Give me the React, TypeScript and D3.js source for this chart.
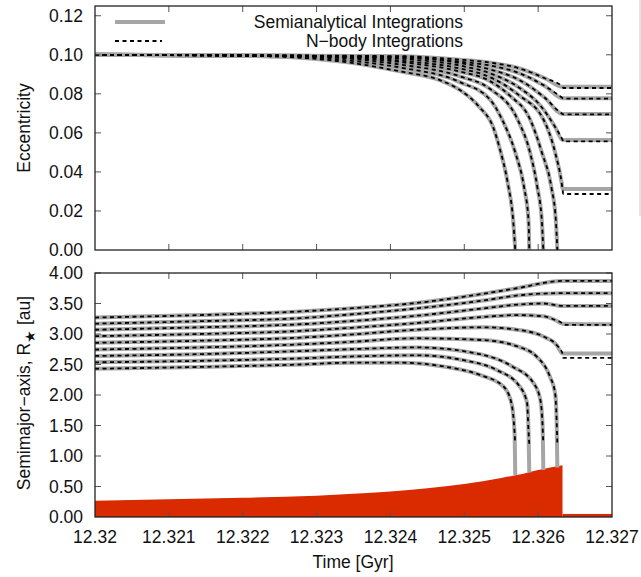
import React, { useEffect, useRef } from "react";
import * as d3 from "d3";

type Pt = [number, number];

// stellar radius (au) along the RGB, then the remnant
const starTime = [12.32, 12.321, 12.322, 12.323, 12.3235, 12.324, 12.3245, 12.325, 12.3255, 12.3258, 12.326, 12.32633];
const starRadius = [0.267, 0.29, 0.315, 0.35, 0.38, 0.42, 0.47, 0.54, 0.64, 0.71, 0.77, 0.85];
const remnantRadius = 0.05;

// eccentricity, semianalytical (curves 0-3 engulfed, 4-8 survive)
const ecc0: Pt[] = [[12.32, 0.1], [12.3221, 0.0995], [12.32278, 0.0985], [12.32345, 0.096], [12.32413, 0.0915], [12.32467, 0.087], [12.32494, 0.082], [12.32521, 0.073], [12.32539, 0.063], [12.32548, 0.052], [12.32559, 0.034], [12.32566, 0.016], [12.32569, 0]];
const ecc1: Pt[] = [[12.32, 0.1], [12.32278, 0.099], [12.32345, 0.097], [12.32413, 0.0935], [12.32494, 0.086], [12.32535, 0.077], [12.32551, 0.067], [12.32569, 0.05], [12.32581, 0.032], [12.32587, 0.015], [12.32588, 0]];
const ecc2: Pt[] = [[12.32, 0.1], [12.32278, 0.0993], [12.32345, 0.098], [12.32413, 0.095], [12.32494, 0.089], [12.32535, 0.0825], [12.32572, 0.067], [12.32589, 0.05], [12.32599, 0.032], [12.32605, 0.015], [12.32607, 0]];
const ecc3: Pt[] = [[12.32, 0.1], [12.32278, 0.0995], [12.32345, 0.0985], [12.32413, 0.0963], [12.32494, 0.0914], [12.32535, 0.0865], [12.32562, 0.079], [12.32589, 0.067], [12.32605, 0.05], [12.32618, 0.032], [12.32624, 0.015], [12.32626, 0]];
const ecc4: Pt[] = [[12.32, 0.1], [12.32345, 0.099], [12.32413, 0.097], [12.32494, 0.093], [12.32535, 0.0885], [12.32575, 0.079], [12.32607, 0.067], [12.32623, 0.05], [12.32632, 0.034], [12.32633, 0.0313]];
const ecc5: Pt[] = [[12.32, 0.1], [12.32345, 0.0993], [12.32413, 0.098], [12.32494, 0.0945], [12.32535, 0.0905], [12.32575, 0.083], [12.32603, 0.074], [12.32623, 0.063], [12.32633, 0.0564]];
const ecc6: Pt[] = [[12.32, 0.1], [12.32413, 0.0985], [12.32494, 0.0958], [12.32535, 0.0925], [12.32575, 0.087], [12.32609, 0.078], [12.32633, 0.0697]];
const ecc7: Pt[] = [[12.32, 0.1], [12.32413, 0.099], [12.32494, 0.0965], [12.32535, 0.0945], [12.32575, 0.0905], [12.32609, 0.084], [12.32633, 0.0778]];
const ecc8: Pt[] = [[12.32, 0.1], [12.32413, 0.0993], [12.32494, 0.0975], [12.32535, 0.096], [12.32575, 0.093], [12.32609, 0.088], [12.32633, 0.0836]];

// semimajor axis (au), semianalytical
const semi0: Pt[] = [[12.32, 2.43], [12.32142, 2.46], [12.32278, 2.5], [12.32345, 2.53], [12.32413, 2.53], [12.32476, 2.46], [12.32521, 2.33], [12.32553, 2.14], [12.32564, 1.86], [12.32568, 1.4], [12.32569, 0.69]];
const semi1: Pt[] = [[12.32, 2.535], [12.32142, 2.56], [12.32278, 2.6], [12.32345, 2.63], [12.32436, 2.65], [12.32499, 2.57], [12.32544, 2.41], [12.32575, 2.14], [12.32585, 1.87], [12.32587, 1.4], [12.32588, 0.73]];
const semi2: Pt[] = [[12.32, 2.64], [12.32142, 2.67], [12.32278, 2.72], [12.32345, 2.75], [12.32436, 2.78], [12.32521, 2.67], [12.32566, 2.46], [12.32594, 2.19], [12.32603, 1.92], [12.32606, 1.5], [12.32607, 0.77]];
const semi3: Pt[] = [[12.32, 2.745], [12.32142, 2.78], [12.32278, 2.83], [12.32345, 2.87], [12.32436, 2.93], [12.32526, 2.9], [12.32571, 2.8], [12.32598, 2.63], [12.32616, 2.3], [12.32623, 2.03], [12.32625, 1.6], [12.32626, 0.81]];
const semi4: Pt[] = [[12.32, 2.855], [12.32142, 2.89], [12.32278, 2.94], [12.32345, 2.99], [12.32436, 3.07], [12.32526, 3.11], [12.32571, 3.07], [12.32607, 2.96], [12.32625, 2.82], [12.32633, 2.68]];
const semi5: Pt[] = [[12.32, 2.965], [12.32142, 3.0], [12.32278, 3.05], [12.32345, 3.1], [12.32436, 3.18], [12.32526, 3.28], [12.32571, 3.31], [12.32607, 3.29], [12.32623, 3.23], [12.32633, 3.17]];
const semi6: Pt[] = [[12.32, 3.07], [12.32142, 3.11], [12.32278, 3.16], [12.32345, 3.21], [12.32436, 3.3], [12.32526, 3.42], [12.32571, 3.48], [12.32607, 3.5], [12.32633, 3.46]];
const semi7: Pt[] = [[12.32, 3.17], [12.32142, 3.21], [12.32278, 3.26], [12.32345, 3.32], [12.32436, 3.42], [12.32526, 3.55], [12.32571, 3.63], [12.32633, 3.67]];
const semi8: Pt[] = [[12.32, 3.27], [12.32142, 3.31], [12.32278, 3.37], [12.32345, 3.42], [12.32436, 3.51], [12.32526, 3.66], [12.32571, 3.75], [12.32633, 3.87]];

const eccCurves = [ecc0, ecc1, ecc2, ecc3, ecc4, ecc5, ecc6, ecc7, ecc8];
const semiCurves = [semi0, semi1, semi2, semi3, semi4, semi5, semi6, semi7, semi8];

// final (post-RGB) values for surviving planets, curves 4..8
const eccFinalSA = [0.0313, 0.0564, 0.0697, 0.0778, 0.0836];
const eccFinalNB = [0.0287, 0.0556, 0.0695, 0.0775, 0.083];
const semiFinalSA = [2.68, 3.16, 3.46, 3.67, 3.87];
const semiFinalNB = [2.61, 3.15, 3.46, 3.67, 3.87];
const nbodyStop = 1.2; // N-body runs end before touching the star

const timeTicks = [12.32, 12.321, 12.322, 12.323, 12.324, 12.325, 12.326, 12.327];
const eccTicks = [0, 0.02, 0.04, 0.06, 0.08, 0.1, 0.12];
const semiTicks = [0, 0.5, 1, 1.5, 2, 2.5, 3, 3.5, 4];

const W = 641;
const H = 577;
const left = 95;
const right = 612;
const FONT = "'Liberation Sans', Arial, Helvetica, sans-serif";
const FS = 17.5;
const GREY = "#a6a6a6";

export default function App() {
  const ref = useRef<SVGSVGElement>(null);

  useEffect(() => {
    const svg = d3.select(ref.current);
    svg.selectAll("*").remove();

    const tEnd = timeTicks[timeTicks.length - 1];
    const x = d3.scaleLinear().domain([12.32, tEnd]).range([left, right]);
    const yE = d3.scaleLinear().domain([0, 0.125]).range([250, 6]);
    const yA = d3.scaleLinear().domain([0, 4]).range([517, 273]);

    const defs = svg.append("defs");
    defs.append("clipPath").attr("id", "clipE").append("rect")
      .attr("x", left).attr("y", 6).attr("width", right - left).attr("height", 244);
    defs.append("clipPath").attr("id", "clipA").append("rect")
      .attr("x", left).attr("y", 273).attr("width", right - left).attr("height", 244);

    // stray frame edge of the neighbouring panel
    svg.append("line").attr("x1", 640).attr("x2", 640).attr("y1", 0).attr("y2", 216)
      .attr("stroke", "#c8c8c8").attr("stroke-width", 1);

    const drawPanel = (
      y: d3.ScaleLinear<number, number>,
      ticks: number[],
      fmt: (v: number) => string,
      showX: boolean
    ) => {
      const [y0, y1] = y.range();
      const g = svg.append("g");
      ticks.forEach((v) => {
        const yy = y(v);
        if (v !== y.domain()[0]) {
          g.append("line").attr("x1", left).attr("x2", left + 6).attr("y1", yy).attr("y2", yy)
            .attr("stroke", "#555");
          g.append("line").attr("x1", right - 6).attr("x2", right).attr("y1", yy).attr("y2", yy)
            .attr("stroke", "#555");
        }
        g.append("text").attr("x", 83).attr("y", yy).attr("dy", "0.35em")
          .attr("text-anchor", "end").attr("font-family", FONT).attr("font-size", FS)
          .attr("fill", "#111").text(fmt(v));
      });
      timeTicks.forEach((t) => {
        const xx = x(t);
        if (t !== 12.32 && t !== tEnd) {
          g.append("line").attr("x1", xx).attr("x2", xx).attr("y1", y0).attr("y2", y0 - 6)
            .attr("stroke", "#555");
          g.append("line").attr("x1", xx).attr("x2", xx).attr("y1", y1).attr("y2", y1 + 6)
            .attr("stroke", "#555");
        }
        if (showX) {
          g.append("text").attr("x", xx).attr("y", y0 + 20).attr("dy", "0.35em")
            .attr("text-anchor", "middle").attr("font-family", FONT).attr("font-size", FS)
            .attr("fill", "#111").text(String(t));
        }
      });
    };

    // ---- eccentricity panel ----
    const lineE = d3.line<Pt>().x((d) => x(d[0])).y((d) => yE(d[1])).curve(d3.curveMonotoneX);
    const gE = svg.append("g").attr("clip-path", "url(#clipE)");
    const eccSA = eccCurves.map((c, i) => (i < 4 ? c : [...c, [tEnd, eccFinalSA[i - 4]] as Pt]));
    const eccNB = eccCurves.map((c, i) => {
      if (i < 4) return c;
      const k = c[c.length - 1][0];
      return [...c, [k + 0.00001, eccFinalNB[i - 4]] as Pt, [tEnd, eccFinalNB[i - 4]] as Pt];
    });
    gE.selectAll(".sa").data(eccSA).enter().append("path")
      .attr("fill", "none").attr("stroke", GREY).attr("stroke-width", 4).attr("d", lineE);
    gE.selectAll(".nb").data(eccNB).enter().append("path")
      .attr("fill", "none").attr("stroke", "#000").attr("stroke-width", 1.8)
      .attr("stroke-dasharray", "4,3.5").attr("d", lineE);

    // ---- semimajor axis panel ----
    const lineA = d3.line<Pt>().x((d) => x(d[0])).y((d) => yA(d[1])).curve(d3.curveMonotoneX);
    const gA = svg.append("g").attr("clip-path", "url(#clipA)");
    const star: Pt[] = starTime.map((t, i) => [t, starRadius[i]] as Pt);
    const tDrop = starTime[starTime.length - 1];
    const area = d3.area<Pt>().x((d) => x(d[0])).y0(yA(0)).y1((d) => yA(d[1])).curve(d3.curveMonotoneX);
    gA.append("path").datum(star).attr("fill", "#d92a00").attr("d", area);
    gA.append("rect").attr("x", x(tDrop)).attr("y", yA(remnantRadius))
      .attr("width", x(tEnd) - x(tDrop)).attr("height", yA(0) - yA(remnantRadius))
      .attr("fill", "#d92a00");

    const semiSA = semiCurves.map((c, i) => (i < 4 ? c : [...c, [tEnd, semiFinalSA[i - 4]] as Pt]));
    const semiNB = semiCurves.map((c, i) => {
      if (i < 4) {
        const kept = c.filter((p) => p[1] >= nbodyStop);
        return [...kept, [c[c.length - 1][0], nbodyStop] as Pt];
      }
      const k = c[c.length - 1][0];
      return [...c, [k + 0.00001, semiFinalNB[i - 4]] as Pt, [tEnd, semiFinalNB[i - 4]] as Pt];
    });
    gA.selectAll(".sa").data(semiSA).enter().append("path")
      .attr("fill", "none").attr("stroke", GREY).attr("stroke-width", 4).attr("d", lineA);
    gA.selectAll(".nb").data(semiNB).enter().append("path")
      .attr("fill", "none").attr("stroke", "#000").attr("stroke-width", 1.8)
      .attr("stroke-dasharray", "4,3.5").attr("d", lineA);

    drawPanel(yE, eccTicks, d3.format(".2f"), false);
    drawPanel(yA, semiTicks, d3.format(".2f"), true);

    // frames
    [yE, yA].forEach((y) => {
      const [y0, y1] = y.range();
      svg.append("rect").attr("x", left).attr("y", y1).attr("width", right - left)
        .attr("height", y0 - y1).attr("fill", "none").attr("stroke", "#222").attr("stroke-width", 1.3);
    });

    // legend
    const lg = svg.append("g").attr("font-family", FONT).attr("font-size", FS).attr("fill", "#111");
    lg.append("line").attr("x1", 115).attr("x2", 165).attr("y1", 22).attr("y2", 22)
      .attr("stroke", GREY).attr("stroke-width", 4);
    lg.append("line").attr("x1", 115).attr("x2", 162).attr("y1", 41).attr("y2", 41)
      .attr("stroke", "#000").attr("stroke-width", 1.8).attr("stroke-dasharray", "4,3.5");
    lg.append("text").attr("x", 463).attr("y", 22).attr("dy", "0.35em").attr("text-anchor", "end")
      .text("Semianalytical Integrations");
    lg.append("text").attr("x", 463).attr("y", 41).attr("dy", "0.35em").attr("text-anchor", "end")
      .text("N\u2212body Integrations");

    // axis titles
    svg.append("text").attr("transform", "translate(30,128) rotate(-90)")
      .attr("text-anchor", "middle").attr("font-family", FONT).attr("font-size", FS).attr("fill", "#111")
      .text("Eccentricity");
    const ta = svg.append("text").attr("transform", "translate(30,393) rotate(-90)")
      .attr("text-anchor", "middle").attr("font-family", FONT).attr("font-size", FS).attr("fill", "#111");
    ta.append("tspan").text("Semimajor\u2212axis, R");
    ta.append("tspan").attr("dy", 5).attr("font-size", 14).text("\u2605");
    ta.append("tspan").attr("dy", -5).text(" [au]");
    svg.append("text").attr("x", 353).attr("y", 562).attr("dy", "0.35em")
      .attr("text-anchor", "middle").attr("font-family", FONT).attr("font-size", FS).attr("fill", "#111")
      .text("Time [Gyr]");
  }, []);

  return (
    <svg
      ref={ref}
      width={W}
      height={H}
      style={{ position: "absolute", left: 0, top: 0, background: "#fff" }}
    />
  );
}
